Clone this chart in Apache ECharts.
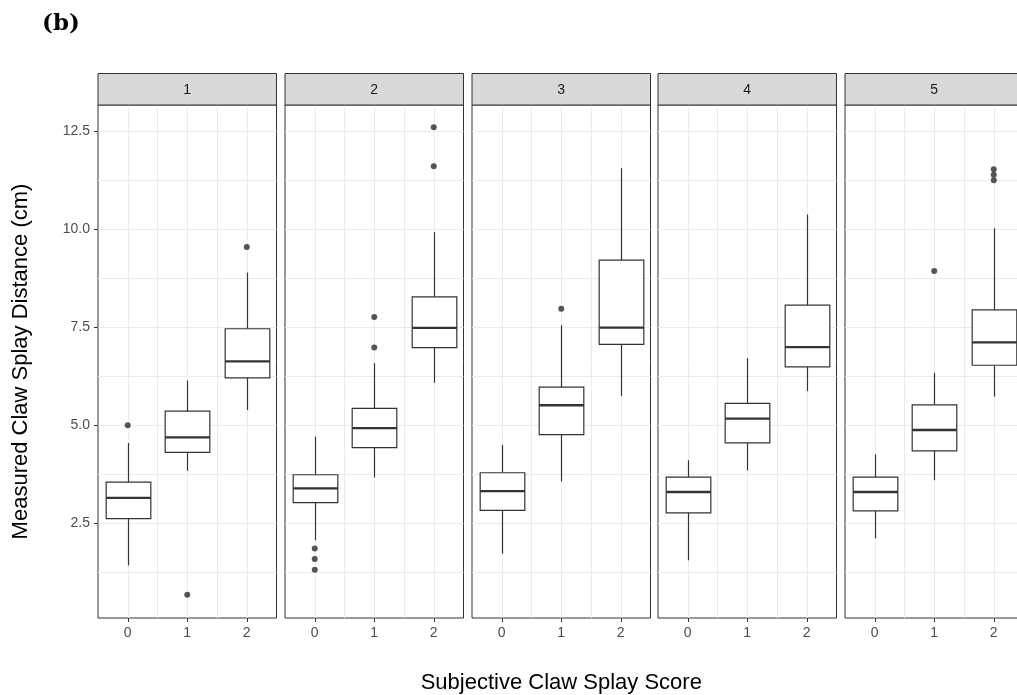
<!DOCTYPE html>
<html>
<head>
<meta charset="utf-8">
<script src="https://cdn.jsdelivr.net/npm/echarts@6/dist/echarts.min.js"></script>
<style>
html,body{margin:0;padding:0;background:#fff;}
#chart{width:1017px;height:695px;}
</style>
</head>
<body>
<div id="chart"></div>
<script>
// ---- data ----
const panelNames = ['1', '2', '3', '4', '5'];
const categories = ['0', '1', '2'];
const yTicks = [2.5, 5, 7.5, 10, 12.5];
const yMinorTicks = [1.25, 3.75, 6.25, 8.75, 11.25];
const xGridValues = [0, 0.5, 1, 1.5, 2];
const yTitle = 'Measured Claw Splay Distance (cm)';
const xTitle = 'Subjective Claw Splay Score';
const panelLabel = '(b)';

// [lower whisker, Q1, median, Q3, upper whisker] for score 0,1,2
const panel1Box = [[1.43, 2.62, 3.15, 3.55, 4.55], [3.84, 4.31, 4.69, 5.36, 6.14], [5.39, 6.21, 6.63, 7.46, 8.89]];
const panel2Box = [[2.07, 3.03, 3.39, 3.74, 4.71], [3.67, 4.43, 4.93, 5.43, 6.58], [6.08, 6.98, 7.48, 8.27, 9.92]];
const panel3Box = [[1.73, 2.83, 3.32, 3.79, 4.50], [3.57, 4.76, 5.51, 5.97, 7.55], [5.75, 7.06, 7.49, 9.21, 11.55]];
const panel4Box = [[1.56, 2.77, 3.30, 3.68, 4.11], [3.85, 4.55, 5.17, 5.56, 6.71], [5.87, 6.49, 6.99, 8.06, 10.37]];
const panel5Box = [[2.12, 2.82, 3.30, 3.68, 4.26], [3.60, 4.35, 4.88, 5.52, 6.34], [5.73, 6.53, 7.11, 7.94, 10.02]];

// outliers: [score index, value]
const panel1Out = [[0, 5.00], [1, 0.68], [2, 9.54]];
const panel2Out = [[0, 1.86], [0, 1.59], [0, 1.32], [1, 7.76], [1, 6.98], [2, 12.59], [2, 11.60]];
const panel3Out = [[1, 7.97]];
const panel4Out = [];
const panel5Out = [[1, 8.93], [2, 11.52], [2, 11.38], [2, 11.24]];

const boxes = [panel1Box, panel2Box, panel3Box, panel4Box, panel5Box];
const outs = [panel1Out, panel2Out, panel3Out, panel4Out, panel5Out];

// ---- layout ----
const panelLefts = [98, 285, 472, 658, 845];
const panelW = 178.5;
const panelTop = 105;
const panelH = 513;
const yMin = 0.09, yMax = 13.16;
const stripTop = 73.5, stripH = 31.5;

const chart = echarts.init(document.getElementById('chart'), null, {renderer: 'canvas'});

const grids = [], xAxes = [], yAxes = [], series = [], graphics = [];

function renderBox(params, api) {
  const x = api.value(0);
  const lo = api.coord([x, api.value(1)]);
  const q1 = api.coord([x, api.value(2)]);
  const med = api.coord([x, api.value(3)]);
  const q3 = api.coord([x, api.value(4)]);
  const hi = api.coord([x, api.value(5)]);
  const bw = api.size([1, 0])[0] * 0.75;
  const cx = Math.round(lo[0]) + 0.5;
  const st = {stroke: '#333333', lineWidth: 1.2};
  return {
    type: 'group',
    children: [
      {type: 'line', shape: {x1: cx, y1: hi[1], x2: cx, y2: q3[1]}, style: st},
      {type: 'line', shape: {x1: cx, y1: q1[1], x2: cx, y2: lo[1]}, style: st},
      {type: 'rect', shape: {x: cx - bw / 2, y: q3[1], width: bw, height: q1[1] - q3[1]},
       style: {fill: '#ffffff', stroke: '#333333', lineWidth: 1.2}},
      {type: 'line', shape: {x1: cx - bw / 2, y1: med[1], x2: cx + bw / 2, y2: med[1]},
       style: {stroke: '#333333', lineWidth: 2.3}}
    ]
  };
}

panelNames.forEach((name, i) => {
  grids.push({
    left: panelLefts[i], top: panelTop, width: panelW, height: panelH,
    containLabel: false, outerBoundsMode: 'none',
    show: true, backgroundColor: '#ffffff', borderColor: '#333333', borderWidth: 1, z: 0
  });
  // category axis (data)
  xAxes.push({
    type: 'category', gridIndex: i, data: categories, boundaryGap: true, position: 'bottom',
    axisLine: {show: false, onZero: false},
    axisTick: {show: true, alignWithLabel: true, length: 4, lineStyle: {color: '#333333'}},
    axisLabel: {show: true, color: '#4D4D4D', fontSize: 14, margin: 8, fontFamily: 'Liberation Sans, Arial, sans-serif'},
    splitLine: {show: false},
    name: i === 2 ? xTitle : '',
    nameLocation: 'middle', nameGap: 54,
    nameTextStyle: {fontSize: 22, color: '#000000', fontFamily: 'Liberation Sans, Arial, sans-serif'}
  });
  // value axis for vertical grid lines
  xAxes.push({
    type: 'value', gridIndex: i, min: -0.5, max: 2.5, position: 'bottom',
    axisLine: {show: false, onZero: false},
    axisTick: {show: false, customValues: xGridValues},
    axisLabel: {show: false},
    splitLine: {show: true, lineStyle: {color: '#EBEBEB', width: 1}}
  });
  // y axis (major)
  yAxes.push({
    type: 'value', gridIndex: i, min: yMin, max: yMax, position: 'left',
    axisLine: {show: false, onZero: false},
    axisTick: {show: i === 0, length: 4, lineStyle: {color: '#333333'}, customValues: yTicks},
    axisLabel: {show: i === 0, color: '#4D4D4D', fontSize: 14, margin: 8, customValues: yTicks,
      fontFamily: 'Liberation Sans, Arial, sans-serif',
      formatter: v => Number(v).toFixed(1)},
    splitLine: {show: true, lineStyle: {color: '#EBEBEB', width: 1.1}},
    name: i === 0 ? yTitle : '',
    nameLocation: 'middle', nameGap: 66, nameRotate: 90,
    nameTextStyle: {fontSize: 22, color: '#000000', fontFamily: 'Liberation Sans, Arial, sans-serif'}
  });
  // y axis (minor grid)
  yAxes.push({
    type: 'value', gridIndex: i, min: yMin, max: yMax, position: 'left',
    axisLine: {show: false, onZero: false},
    axisTick: {show: false, customValues: yMinorTicks},
    axisLabel: {show: false},
    splitLine: {show: true, lineStyle: {color: '#EBEBEB', width: 1}}
  });
  series.push({
    type: 'custom', name: 'box' + name,
    xAxisIndex: 2 * i, yAxisIndex: 2 * i,
    renderItem: renderBox,
    dimensions: ['x', 'lo', 'q1', 'med', 'q3', 'hi'],
    encode: {x: 0, y: [1, 2, 3, 4, 5]},
    data: boxes[i].map((b, k) => [k].concat(b)),
    z: 3, silent: true
  });
  series.push({
    type: 'scatter', name: 'out' + name,
    xAxisIndex: 2 * i, yAxisIndex: 2 * i,
    data: outs[i], symbol: 'circle', symbolSize: 6,
    itemStyle: {color: '#2B2B2B'}, z: 4, silent: true
  });
  graphics.push({
    type: 'rect', z: 10,
    shape: {x: panelLefts[i], y: stripTop, width: panelW, height: stripH},
    style: {fill: '#D9D9D9', stroke: '#333333', lineWidth: 1}
  });
  graphics.push({
    type: 'text', z: 11,
    x: panelLefts[i] + panelW / 2, y: stripTop + stripH / 2 + 1,
    style: {text: name, fill: '#1A1A1A', fontSize: 14, align: 'center', verticalAlign: 'middle',
      fontFamily: 'Liberation Sans, Arial, sans-serif'}
  });
});

graphics.push({
  type: 'text', z: 11, x: 42, y: 24,
  style: {text: panelLabel, fill: '#000000', fontSize: 23, fontWeight: 'bold',
    fontFamily: 'DejaVu Serif, serif', align: 'left', verticalAlign: 'middle'}
});

chart.setOption({
  animation: false,
  backgroundColor: '#ffffff',
  grid: grids,
  xAxis: xAxes,
  yAxis: yAxes,
  series: series,
  graphic: graphics
});
</script>
</body>
</html>
